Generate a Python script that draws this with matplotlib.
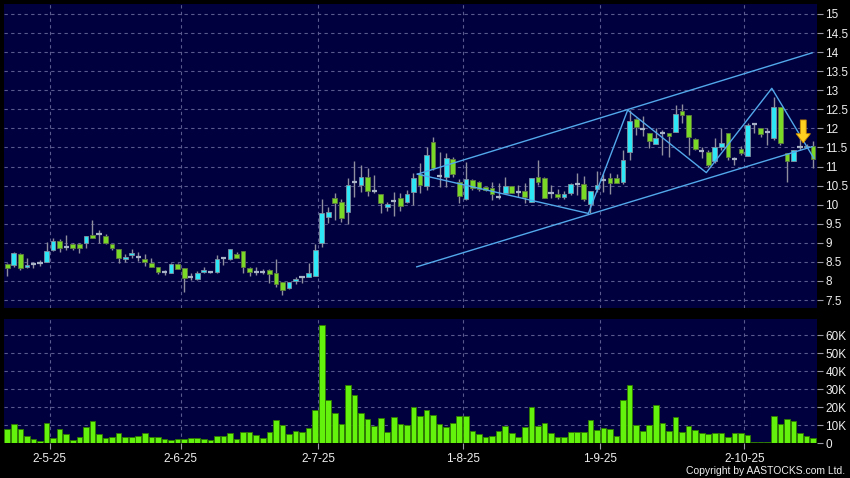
import matplotlib
matplotlib.use("Agg")
import matplotlib.pyplot as plt
import numpy as np

plt.rcParams["font.family"] = ["Liberation Sans", "DejaVu Sans"]

# daily OHLC (HKD)
opens = [8.44, 8.42, 8.70, 8.36, 8.44, 8.47, 8.49, 8.82, 9.04, 8.88,
         8.96, 8.96, 8.99, 9.20, 9.24, 9.17, 8.96, 8.83, 8.57, 8.67,
         8.62, 8.57, 8.46, 8.36, 8.23, 8.22, 8.44, 8.33, 8.10, 8.04,
         8.23, 8.24, 8.23, 8.59, 8.57, 8.71, 8.78, 8.33, 8.23, 8.23,
         8.28, 8.20, 7.98, 7.81, 7.99, 8.10, 8.10, 8.14, 8.99, 9.67,
         10.17, 10.06, 9.80, 10.60, 10.52, 10.73, 10.36, 10.27, 9.95, 10.10,
         10.18, 10.08, 10.32, 10.80, 10.50, 11.64, 10.75, 10.72, 11.20, 10.60,
         10.14, 10.65, 10.60, 10.46, 10.43, 10.19, 10.31, 10.49, 10.34, 10.36,
         10.08, 10.73, 10.71, 10.30, 10.27, 10.21, 10.30, 10.53, 10.53, 10.01,
         10.40, 10.65, 10.69, 10.69, 10.59, 11.37, 12.25, 11.98, 11.89, 11.58,
         11.87, 11.87, 11.91, 12.46, 12.35, 11.71, 11.41, 11.39, 11.15, 11.50,
         11.87, 11.19, 11.45, 11.28, 12.11, 12.00, 11.90, 11.74, 12.55, 11.35,
         11.15, 11.52, 11.50, 11.55]
highs = [8.46, 8.75, 8.72, 8.59, 8.50, 8.54, 9.03, 9.13, 9.10, 9.20,
         8.99, 8.99, 9.17, 9.60, 9.33, 9.22, 8.96, 8.83, 8.70, 8.83,
         8.75, 8.70, 8.59, 8.36, 8.29, 8.46, 8.46, 8.35, 8.20, 8.27,
         8.36, 8.27, 8.67, 8.64, 8.85, 8.77, 8.78, 8.37, 8.36, 8.30,
         8.31, 8.57, 7.98, 7.97, 8.11, 8.13, 8.46, 8.97, 10.14, 9.93,
         10.31, 10.14, 10.69, 11.15, 11.04, 10.95, 10.78, 10.27, 10.08, 10.34,
         10.31, 10.38, 10.82, 11.10, 11.50, 11.78, 11.39, 11.36, 11.26, 10.66,
         11.13, 10.66, 10.62, 10.46, 10.60, 10.56, 10.73, 10.49, 10.52, 10.56,
         10.69, 11.17, 10.72, 10.52, 10.40, 10.37, 10.56, 10.82, 10.75, 10.37,
         10.88, 10.80, 10.82, 10.80, 11.43, 12.48, 12.28, 12.33, 11.89, 12.00,
         11.96, 11.87, 12.61, 12.64, 12.35, 11.74, 11.52, 11.43, 11.74, 12.00,
         11.87, 11.26, 11.54, 12.15, 12.13, 12.00, 12.00, 12.82, 12.55, 11.35,
         11.43, 11.83, 11.60, 11.68]
lows = [8.14, 8.37, 8.29, 8.33, 8.33, 8.40, 8.49, 8.78, 8.75, 8.81,
        8.81, 8.72, 8.86, 9.12, 8.99, 8.96, 8.81, 8.46, 8.50, 8.61,
        8.53, 8.40, 8.36, 8.18, 8.16, 8.22, 8.30, 7.72, 8.02, 8.02,
        8.20, 8.22, 8.22, 8.42, 8.55, 8.59, 8.22, 8.14, 8.16, 8.19,
        7.94, 7.85, 7.63, 7.79, 7.92, 7.94, 8.10, 8.14, 8.90, 9.51,
        9.60, 9.55, 9.48, 10.21, 10.34, 10.23, 10.30, 9.77, 9.84, 9.71,
        9.84, 10.04, 9.99, 10.31, 10.38, 10.91, 10.47, 10.47, 10.73, 10.04,
        10.12, 10.39, 10.35, 10.35, 10.12, 10.14, 10.30, 10.30, 10.21, 10.04,
        10.08, 10.52, 10.17, 10.17, 10.14, 10.14, 10.25, 10.25, 10.10, 9.77,
        10.34, 10.34, 10.27, 10.56, 10.53, 11.17, 11.83, 11.81, 11.48, 11.58,
        11.30, 11.26, 11.91, 12.15, 11.30, 11.43, 11.22, 11.00, 11.08, 11.43,
        11.17, 11.04, 11.30, 11.28, 11.87, 11.78, 11.56, 11.70, 11.56, 10.60,
        11.15, 11.43, 11.48, 10.95]
closes = [8.35, 8.72, 8.35, 8.42, 8.44, 8.47, 8.78, 9.04, 8.86, 8.88,
          8.86, 8.86, 9.17, 9.12, 9.24, 8.99, 8.86, 8.59, 8.63, 8.72,
          8.62, 8.49, 8.36, 8.23, 8.23, 8.44, 8.32, 8.07, 8.10, 8.20,
          8.29, 8.24, 8.57, 8.59, 8.84, 8.59, 8.36, 8.23, 8.23, 8.23,
          8.19, 7.91, 7.76, 7.96, 8.06, 8.10, 8.20, 8.81, 9.77, 9.82,
          10.05, 9.66, 10.51, 10.60, 10.73, 10.36, 10.36, 10.04, 10.01, 10.10,
          9.96, 10.28, 10.69, 10.51, 11.30, 10.95, 10.75, 11.21, 10.80, 10.23,
          10.66, 10.43, 10.40, 10.38, 10.28, 10.19, 10.49, 10.31, 10.34, 10.19,
          10.69, 10.60, 10.18, 10.30, 10.21, 10.27, 10.53, 10.53, 10.15, 10.37,
          10.52, 10.65, 10.56, 10.56, 11.17, 12.19, 12.04, 11.98, 11.67, 11.74,
          11.87, 11.80, 12.38, 12.35, 11.77, 11.45, 11.41, 11.04, 11.50, 11.62,
          11.24, 11.19, 11.36, 12.09, 12.11, 11.85, 11.90, 12.55, 11.61, 11.15,
          11.43, 11.52, 11.55, 11.19]
# volume in thousands of shares
volumes_k = [7.6, 10.4, 8.0, 3.9, 2.4, 1.3, 11.1, 2.8, 7.8, 5.2,
             1.9, 3.1, 8.9, 12.2, 5.0, 2.6, 3.3, 5.7, 3.5, 3.5,
             3.9, 5.4, 3.1, 3.5, 2.0, 1.5, 2.0, 2.0, 2.8, 2.8,
             2.0, 1.7, 3.9, 3.9, 5.6, 2.4, 6.1, 6.1, 4.4, 2.6,
             6.1, 12.8, 9.8, 4.8, 6.9, 5.9, 8.5, 18.3, 65.6, 23.9,
             16.7, 10.6, 32.4, 26.7, 16.7, 13.3, 9.4, 14.1, 5.9, 14.3,
             10.4, 9.8, 20.0, 15.0, 18.3, 15.6, 10.6, 9.1, 11.3, 14.8,
             14.8, 6.5, 5.0, 3.3, 4.1, 6.5, 9.3, 5.6, 3.3, 8.9,
             20.0, 9.6, 11.3, 5.4, 3.5, 3.5, 5.9, 5.9, 6.3, 12.6,
             7.2, 8.3, 7.6, 3.9, 24.1, 32.2, 10.0, 6.5, 9.8, 21.3,
             11.1, 6.7, 14.4, 6.1, 9.6, 7.2, 5.6, 5.0, 5.7, 5.6,
             3.1, 5.4, 5.4, 4.3, 0.4, 0.4, 0.7, 14.8, 10.7, 13.3,
             12.2, 5.4, 4.1, 2.6]

date_labels = ["2-5-25", "2-6-25", "2-7-25", "1-8-25", "1-9-25", "2-10-25"]
month_first_bar = [7, 27, 48, 70, 91, 113]

# drawn trend lines (bar index, price)
upper_x = [62.6, 122.85]
upper_y = [10.80, 13.98]
lower_x = [62.5, 122.85]
lower_y = [8.37, 11.52]
zigzag_x = [62.6, 88.7, 94.7, 106.7, 116.7, 123.1]
zigzag_y = [10.80, 9.77, 12.48, 10.84, 13.05, 11.22]
arrow_x = 121.5
arrow_top, arrow_tip = 12.22, 11.62

price_ticks = np.arange(7.5, 15.01, 0.5)
vol_ticks = [0, 10, 20, 30, 40, 50, 60]

BG = "#00003E"
GRID = "#5A5A8E"
TXT = "#EEEEEE"
UP = "#2DE6F6"
DOWN = "#7AD826"

o = np.array(opens)
h = np.array(highs)
l = np.array(lows)
c = np.array(closes)
v = np.array(volumes_k)
x = np.arange(len(o))

fig = plt.figure(figsize=(8.5, 4.78), dpi=100, facecolor="black")
ax_p = fig.add_axes([0.0047, 0.3556, 0.9565, 0.636])
ax_v = fig.add_axes([0.0047, 0.0732, 0.9565, 0.2594], sharex=ax_p)

for ax in (ax_p, ax_v):
    ax.set_facecolor(BG)
    for s in ax.spines.values():
        s.set_visible(False)
    ax.yaxis.tick_right()
    ax.tick_params(axis="y", colors="#9A9AA6", labelcolor=TXT, length=4,
                   width=0.8, pad=2, labelsize=8.5)
    for xi in month_first_bar:
        ax.axvline(xi - 0.5, color=GRID, lw=0.8, ls=(0, (3, 3)), zorder=0)
    ax.set_axisbelow(True)
    ax.grid(axis="y", color=GRID, lw=0.8, ls=(0, (3, 3)))

# candles
ax_p.vlines(x, l, h, color="#8E8E9E", lw=1, zorder=2)
up = c > o
down = c < o
doji = c == o
ax_p.bar(x[up], (c - o)[up], bottom=o[up], width=0.72, color=UP,
         edgecolor="#8090A0", lw=0.6, zorder=3)
ax_p.bar(x[down], (o - c)[down], bottom=c[down], width=0.72, color=DOWN,
         edgecolor="#5E7A40", lw=0.6, zorder=3)
ax_p.hlines(o[doji], x[doji] - 0.4, x[doji] + 0.4, color="#A8B2C6", lw=1.6, zorder=3)

# trend lines
for lx, ly in ((upper_x, upper_y), (lower_x, lower_y), (zigzag_x, zigzag_y)):
    ax_p.plot(lx, ly, color="#52A8EA", lw=1.0, zorder=4)

ax_p.arrow(arrow_x, arrow_top, 0, arrow_tip - arrow_top, width=0.9,
           head_width=2.2, head_length=0.24, length_includes_head=True,
           fc="#FFD020", ec="#C98A00", lw=0.6, zorder=5)

ax_p.set_xlim(-0.5, 123.6)
ax_p.set_ylim(7.29, 15.26)
ax_p.set_yticks(price_ticks)
ax_p.set_yticklabels([f"{t:g}" for t in price_ticks])
ax_p.tick_params(axis="x", bottom=False, labelbottom=False)

# volume
ax_v.bar(x, v, width=0.86, color="#62F20C", edgecolor="#2F7A00", lw=0.6, zorder=2)
ax_v.set_ylim(0, 68.9)
ax_v.set_yticks(vol_ticks)
ax_v.set_yticklabels(["0" if t == 0 else f"{t}K" for t in vol_ticks])
ax_v.set_xticks([m - 0.5 for m in month_first_bar])
ax_v.set_xticklabels(date_labels)
ax_v.tick_params(axis="x", colors="#9A9AA6", labelcolor=TXT, length=4,
                 width=0.8, pad=3, labelsize=8.5)

fig.text(0.994, 0.004, "Copyright by AASTOCKS.com Ltd.", color=TXT,
         fontsize=7.5, ha="right", va="bottom")

fig.savefig("out.png", dpi=100, facecolor="black")
